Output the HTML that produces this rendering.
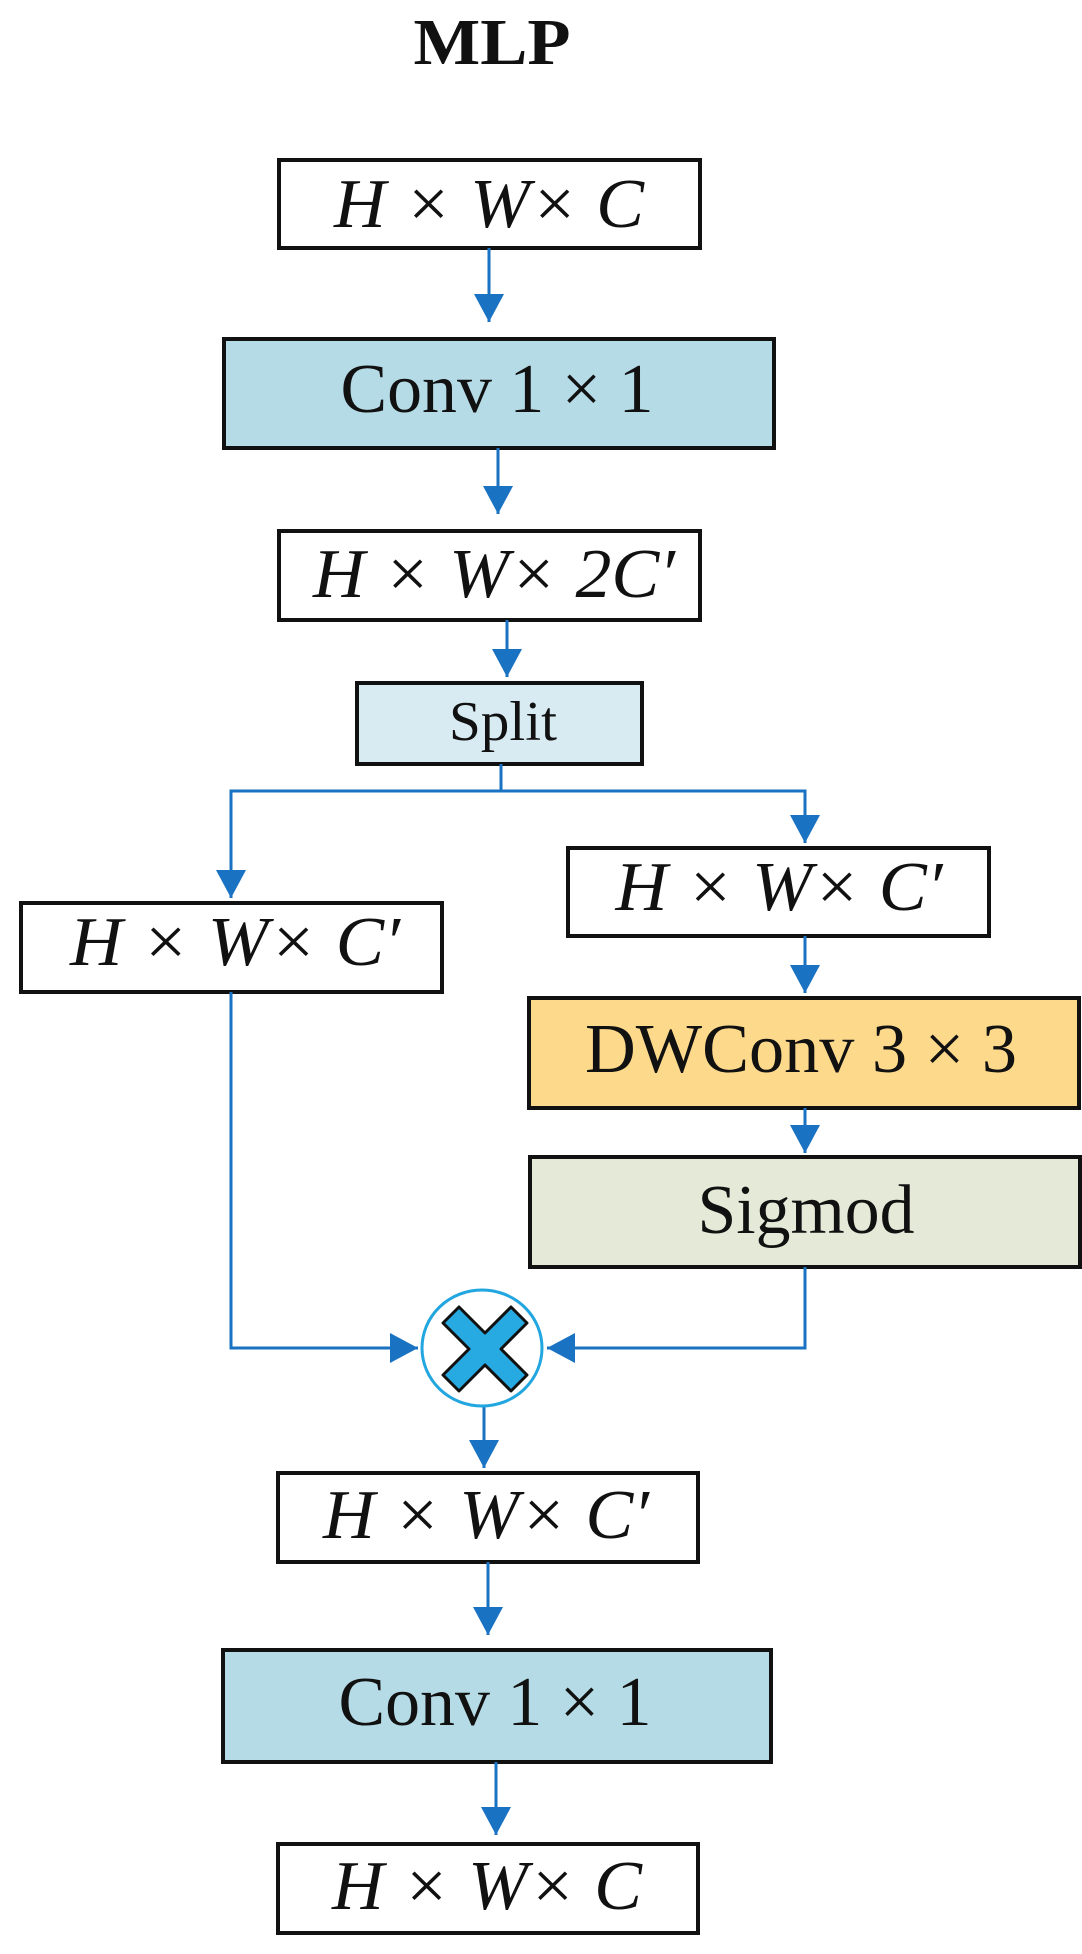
<!DOCTYPE html>
<html><head><meta charset="utf-8"><style>
html,body{margin:0;padding:0;background:#fff;}
svg{display:block;}
text{font-family:"Liberation Serif",serif;fill:#111;}
.it{font-style:italic;}
</style></head><body>
<svg width="1082" height="1954" viewBox="0 0 1082 1954" xmlns="http://www.w3.org/2000/svg">
<defs>
<marker id="a" markerUnits="userSpaceOnUse" markerWidth="32" markerHeight="30" refX="28" refY="15" orient="auto">
<path d="M0,0 L28,15 L0,30 Z" fill="#1a72c2"/>
</marker>
</defs>
<text x="492" y="64" font-size="66" font-weight="bold" text-anchor="middle" textLength="157" lengthAdjust="spacingAndGlyphs">MLP</text>

<g stroke="#111" stroke-width="4">
<rect x="279" y="160" width="421" height="88" fill="#fff"/>
<rect x="224" y="339" width="550" height="109" fill="#b5dbe7"/>
<rect x="279" y="531" width="421" height="89" fill="#fff"/>
<rect x="357" y="683" width="285" height="81" fill="#d8ebf2"/>
<rect x="568" y="848" width="421" height="88" fill="#fff"/>
<rect x="21" y="903" width="421" height="89" fill="#fff"/>
<rect x="529" y="998" width="550" height="110" fill="#fcd98b"/>
<rect x="530" y="1157" width="550" height="110" fill="#e4e9d8"/>
<rect x="278" y="1473" width="420" height="89" fill="#fff"/>
<rect x="223" y="1650" width="548" height="112" fill="#b5dbe7"/>
<rect x="278" y="1844" width="420" height="89" fill="#fff"/>
</g>

<g stroke="#1a72c2" stroke-width="3" fill="none">
<line x1="489" y1="248" x2="489" y2="322" marker-end="url(#a)"/>
<line x1="498" y1="448" x2="498" y2="514" marker-end="url(#a)"/>
<line x1="507" y1="620" x2="507" y2="677" marker-end="url(#a)"/>
<polyline points="501,764 501,791 231,791 231,898" marker-end="url(#a)"/>
<polyline points="501,791 805,791 805,843" marker-end="url(#a)"/>
<line x1="805" y1="936" x2="805" y2="993" marker-end="url(#a)"/>
<line x1="805" y1="1108" x2="805" y2="1153" marker-end="url(#a)"/>
<polyline points="231,992 231,1348 418,1348" marker-end="url(#a)"/>
<polyline points="805,1267 805,1348 547,1348" marker-end="url(#a)"/>
<line x1="484" y1="1407" x2="484" y2="1468" marker-end="url(#a)"/>
<line x1="488" y1="1562" x2="488" y2="1635" marker-end="url(#a)"/>
<line x1="496" y1="1762" x2="496" y2="1835" marker-end="url(#a)"/>
</g>

<ellipse cx="482" cy="1348" rx="60" ry="58" fill="#fff" stroke="#22a6df" stroke-width="3"/>
<path d="M0,-16 L26,-42 L42,-26 L16,0 L42,26 L26,42 L0,16 L-26,42 L-42,26 L-16,0 L-42,-26 L-26,-42 Z" transform="translate(485,1349)" fill="#27a9e1" stroke="#111" stroke-width="3" stroke-linejoin="round"/>

<g font-size="70">
<text class="it" x="489" y="227" text-anchor="middle" textLength="310" lengthAdjust="spacingAndGlyphs">H × W× C</text>
<text x="497" y="412" text-anchor="middle" textLength="313" lengthAdjust="spacingAndGlyphs">Conv 1 × 1</text>
<text class="it" x="494" y="597" text-anchor="middle" textLength="362" lengthAdjust="spacingAndGlyphs">H × W× 2C′</text>
<text x="503" y="740" font-size="56" text-anchor="middle" textLength="108" lengthAdjust="spacingAndGlyphs">Split</text>
<text class="it" x="779" y="910" text-anchor="middle" textLength="327" lengthAdjust="spacingAndGlyphs">H × W× C′</text>
<text class="it" x="235" y="965" text-anchor="middle" textLength="330" lengthAdjust="spacingAndGlyphs">H × W× C′</text>
<text x="801" y="1072" text-anchor="middle" textLength="432" lengthAdjust="spacingAndGlyphs">DWConv 3 × 3</text>
<text x="806" y="1233" text-anchor="middle" textLength="217" lengthAdjust="spacingAndGlyphs">Sigmod</text>
<text class="it" x="486" y="1538" text-anchor="middle" textLength="326" lengthAdjust="spacingAndGlyphs">H × W× C′</text>
<text x="495" y="1725" text-anchor="middle" textLength="313" lengthAdjust="spacingAndGlyphs">Conv 1 × 1</text>
<text class="it" x="487" y="1909" text-anchor="middle" textLength="310" lengthAdjust="spacingAndGlyphs">H × W× C</text>
</g>
</svg>
</body></html>
